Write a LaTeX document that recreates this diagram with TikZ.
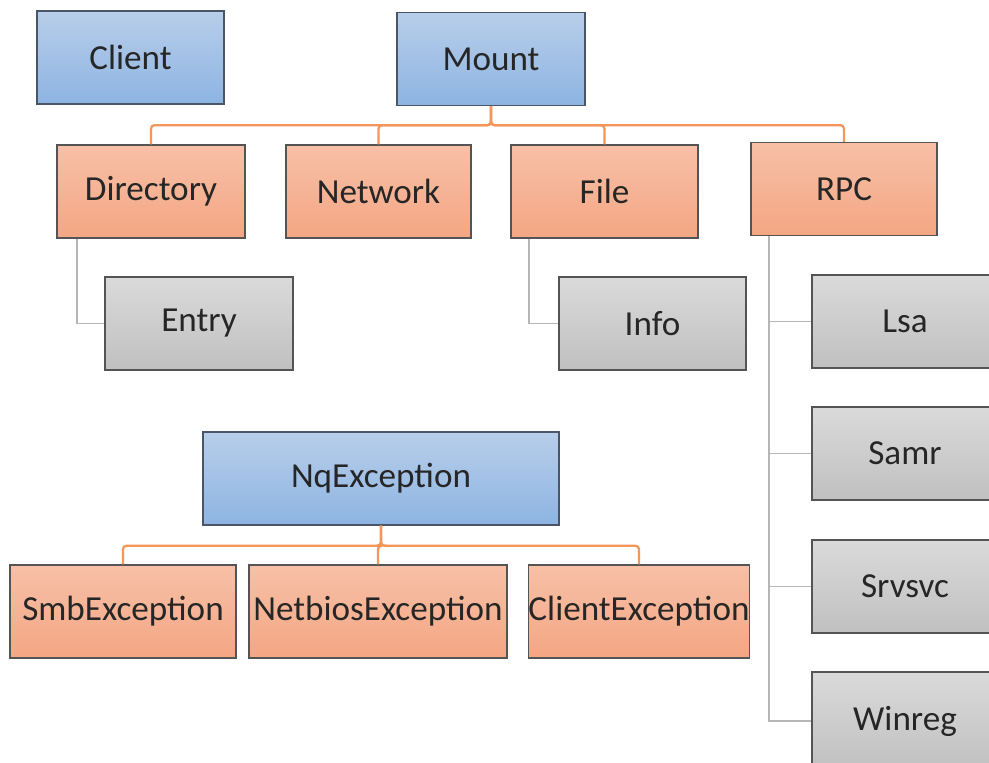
\documentclass[tikz,border=0pt]{standalone}
\usepackage{fontspec}
\setmainfont{Carlito}
\usetikzlibrary{positioning,calc}
\definecolor{bluetop}{RGB}{184,206,234}
\definecolor{bluebot}{RGB}{141,180,226}
\definecolor{blueedge}{RGB}{72,86,104}
\definecolor{orangetop}{RGB}{247,192,167}
\definecolor{orangebot}{RGB}{244,166,131}
\definecolor{graytop}{RGB}{218,218,218}
\definecolor{graybot}{RGB}{192,192,192}
\definecolor{boxedge}{RGB}{84,84,84}
\definecolor{orangeline}{RGB}{242,150,90}
\definecolor{grayline}{RGB}{182,182,182}

\tikzset{
    box/.style={draw=boxedge, line width=0.8pt, minimum height=1.86cm, inner sep=0pt,
        font=\fontsize{20}{23}\selectfont, text=black!85},
    classbox/.style={box, draw=blueedge, top color=bluetop, bottom color=bluebot},
    groupbox/.style={box, top color=orangetop, bottom color=orangebot},
    leafbox/.style={box, top color=graytop, bottom color=graybot},
    orangelink/.style={orangeline, line width=1.3pt, rounded corners=2pt},
    graylink/.style={grayline, line width=1.1pt}
}

\begin{document}
\begin{tikzpicture}[x=0.02cm, y=-0.02cm]
    \useasboundingbox (0,0) rectangle (989,762);
    \clip (0,0) rectangle (989,762);

    % Top level
    \node[classbox, minimum width=3.74cm] (client) at (130.5,57.5) {Client};
    \node[classbox, minimum width=3.76cm] (mount) at (491,59) {Mount};

    % Mount children
    \node[groupbox, minimum width=3.76cm] (dir) at (151,191.5) {Directory};
    \node[groupbox, minimum width=3.70cm] (net) at (378.5,191.5) {Network};
    \node[groupbox, minimum width=3.74cm] (file) at (604.5,191.5) {File};
    \node[groupbox, minimum width=3.72cm] (rpc) at (844,189) {RPC};

    % Leaves
    \node[leafbox, minimum width=3.76cm] (entry) at (199,323.5) {Entry};
    \node[leafbox, minimum width=3.74cm] (info) at (652.5,323.5) {Info};
    \node[leafbox, minimum width=3.72cm] (lsa) at (905,321.5) {Lsa};
    \node[leafbox, minimum width=3.72cm] (samr) at (905,453.5) {Samr};
    \node[leafbox, minimum width=3.72cm] (srvsvc) at (905,586.5) {Srvsvc};
    \node[leafbox, minimum width=3.72cm, minimum height=1.96cm] (winreg) at (905,721) {Winreg};

    % Exceptions
    \node[classbox, minimum width=7.12cm] (nqexc) at (381,478.5) {NqException};
    \node[groupbox, minimum width=4.52cm] (smb) at (123,611.5) {SmbException};
    \node[groupbox, minimum width=5.16cm] (netbios) at (378,611.5) {NetbiosException};
    \node[groupbox, minimum width=4.40cm] (clientexc) at (639,611.5) {ClientException};

    % Orange buses
    \foreach \c in {dir,net,file,rpc}
        \draw[orangelink] (mount.south) -- ++(0,19) -| (\c.north);
    \foreach \c in {smb,netbios,clientexc}
        \draw[orangelink] (nqexc.south) -- ++(0,20) -| (\c.north);

    % Gray side links
    \draw[graylink] ($(dir.south west)+(21,0)$) |- (entry.west);
    \draw[graylink] ($(file.south west)+(19,0)$) |- (info.west);
    \foreach \c in {lsa,samr,srvsvc,winreg}
        \draw[graylink] ($(rpc.south west)+(19,0)$) |- (\c.west);
\end{tikzpicture}
\end{document}
